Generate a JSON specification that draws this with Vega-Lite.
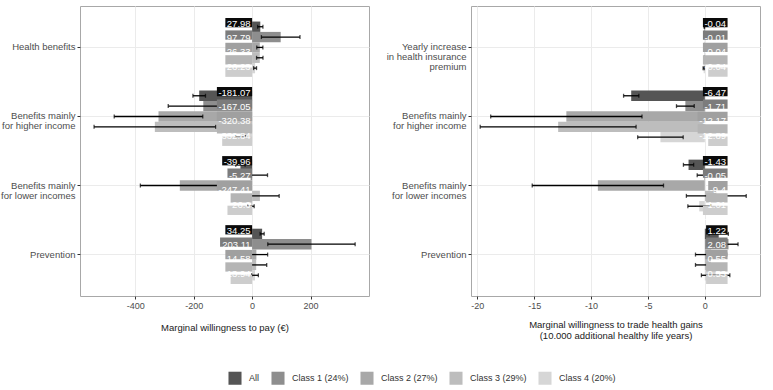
{
  "$schema": "https://vega.github.io/schema/vega-lite/v6.json",
  "padding": {"left": 0, "top": 5, "right": 0, "bottom": 0},
  "spacing": 15,
  "datasets": {
    "wtp": [
      {"attribute": "Health benefits", "group": "All", "value": 27.98, "lo": 18.98, "hi": 36.98},
      {"attribute": "Health benefits", "group": "Class 1 (24%)", "value": 97.79, "lo": 31.79, "hi": 163.79},
      {"attribute": "Health benefits", "group": "Class 2 (27%)", "value": 26.33, "lo": 15.83, "hi": 36.83},
      {"attribute": "Health benefits", "group": "Class 3 (29%)", "value": 26.23, "lo": 15.23, "hi": 37.23},
      {"attribute": "Health benefits", "group": "Class 4 (20%)", "value": 10.13, "lo": 5.13, "hi": 15.13},
      {"attribute": "Benefits mainly\nfor higher income", "group": "All", "value": -181.07, "lo": -202.57, "hi": -159.57},
      {"attribute": "Benefits mainly\nfor higher income", "group": "Class 1 (24%)", "value": -167.05, "lo": -287.05, "hi": -47.05},
      {"attribute": "Benefits mainly\nfor higher income", "group": "Class 2 (27%)", "value": -320.38, "lo": -471.88, "hi": -168.88},
      {"attribute": "Benefits mainly\nfor higher income", "group": "Class 3 (29%)", "value": -332.84, "lo": -540.84, "hi": -124.84},
      {"attribute": "Benefits mainly\nfor higher income", "group": "Class 4 (20%)", "value": -39.56, "lo": -56.56, "hi": -22.56},
      {"attribute": "Benefits mainly\nfor lower incomes", "group": "All", "value": -39.96, "lo": -55.96, "hi": -23.96},
      {"attribute": "Benefits mainly\nfor lower incomes", "group": "Class 1 (24%)", "value": -5.27, "lo": -63.27, "hi": 52.73},
      {"attribute": "Benefits mainly\nfor lower incomes", "group": "Class 2 (27%)", "value": -247.41, "lo": -382.41, "hi": -112.41},
      {"attribute": "Benefits mainly\nfor lower incomes", "group": "Class 3 (29%)", "value": 26.6, "lo": -39.4, "hi": 92.6},
      {"attribute": "Benefits mainly\nfor lower incomes", "group": "Class 4 (20%)", "value": -4.03, "lo": -15.03, "hi": 6.97},
      {"attribute": "Prevention", "group": "All", "value": 34.25, "lo": 27.25, "hi": 41.25},
      {"attribute": "Prevention", "group": "Class 1 (24%)", "value": 203.11, "lo": 53.61, "hi": 352.61},
      {"attribute": "Prevention", "group": "Class 2 (27%)", "value": 14.58, "lo": -23.92, "hi": 53.08},
      {"attribute": "Prevention", "group": "Class 3 (29%)", "value": 13.94, "lo": -22.06, "hi": 49.94},
      {"attribute": "Prevention", "group": "Class 4 (20%)", "value": 9.93, "lo": -1.57, "hi": 21.43}
    ],
    "health": [
      {"attribute": "Yearly increase\nin health insurance\npremium", "group": "All", "value": -0.04, "lo": -0.06, "hi": -0.02},
      {"attribute": "Yearly increase\nin health insurance\npremium", "group": "Class 1 (24%)", "value": -0.01, "lo": -0.03, "hi": 0.01},
      {"attribute": "Yearly increase\nin health insurance\npremium", "group": "Class 2 (27%)", "value": -0.04, "lo": -0.06, "hi": -0.02},
      {"attribute": "Yearly increase\nin health insurance\npremium", "group": "Class 3 (29%)", "value": -0.04, "lo": -0.06, "hi": -0.02},
      {"attribute": "Yearly increase\nin health insurance\npremium", "group": "Class 4 (20%)", "value": -0.1, "lo": -0.15, "hi": -0.05},
      {"attribute": "Benefits mainly\nfor higher income", "group": "All", "value": -6.47, "lo": -7.14, "hi": -5.8},
      {"attribute": "Benefits mainly\nfor higher income", "group": "Class 1 (24%)", "value": -1.71, "lo": -2.49, "hi": -0.93},
      {"attribute": "Benefits mainly\nfor higher income", "group": "Class 2 (27%)", "value": -12.17, "lo": -18.82, "hi": -5.52},
      {"attribute": "Benefits mainly\nfor higher income", "group": "Class 3 (29%)", "value": -12.89, "lo": -19.74, "hi": -6.04},
      {"attribute": "Benefits mainly\nfor higher income", "group": "Class 4 (20%)", "value": -3.9, "lo": -5.9, "hi": -1.9},
      {"attribute": "Benefits mainly\nfor lower incomes", "group": "All", "value": -1.43, "lo": -1.88, "hi": -0.98},
      {"attribute": "Benefits mainly\nfor lower incomes", "group": "Class 1 (24%)", "value": -0.05, "lo": -0.67, "hi": 0.57},
      {"attribute": "Benefits mainly\nfor lower incomes", "group": "Class 2 (27%)", "value": -9.4, "lo": -15.17, "hi": -3.63},
      {"attribute": "Benefits mainly\nfor lower incomes", "group": "Class 3 (29%)", "value": 1.01, "lo": -1.62, "hi": 3.64},
      {"attribute": "Benefits mainly\nfor lower incomes", "group": "Class 4 (20%)", "value": -0.49, "lo": -1.49, "hi": 0.51},
      {"attribute": "Prevention", "group": "All", "value": 1.22, "lo": 0.37, "hi": 2.07},
      {"attribute": "Prevention", "group": "Class 1 (24%)", "value": 2.08, "lo": 1.24, "hi": 2.92},
      {"attribute": "Prevention", "group": "Class 2 (27%)", "value": 0.55, "lo": -0.82, "hi": 1.92},
      {"attribute": "Prevention", "group": "Class 3 (29%)", "value": 0.53, "lo": -0.82, "hi": 1.88},
      {"attribute": "Prevention", "group": "Class 4 (20%)", "value": 0.95, "lo": -0.3, "hi": 2.2}
    ]
  },
  "hconcat": [
    {
      "data": {"name": "wtp"},
      "width": 289,
      "height": 290,
      "encoding": {
        "y": {
          "field": "attribute", "type": "nominal",
          "scale": {"domain": ["Health benefits", "Benefits mainly\nfor higher income", "Benefits mainly\nfor lower incomes", "Prevention"], "paddingInner": 0, "paddingOuter": 0.1},
          "axis": {"title": null, "bandPosition": 0.5, "labelExpr": "split(datum.label, '\\n')"}
        }
      },
      "layer": [
        {
          "mark": {"type": "bar"},
          "encoding": {
            "x": {
              "field": "value", "type": "quantitative", "title": "Marginal willingness to pay (€)",
              "scale": {"domain": [-589, 400], "nice": false, "zero": false},
              "axis": {
                "values": [-400, -200, 0, 200],
                "labelOverlap": false,
                "labelFlush": false,
                "labelBound": false
              }
            },
            "yOffset": {"field": "group", "scale": {"domain": ["All", "Class 1 (24%)", "Class 2 (27%)", "Class 3 (29%)", "Class 4 (20%)"], "paddingInner": 0, "paddingOuter": 0.835}},
            "color": {
              "field": "group", "type": "nominal",
              "scale": {"domain": ["All", "Class 1 (24%)", "Class 2 (27%)", "Class 3 (29%)", "Class 4 (20%)"], "range": ["#555555", "#8e8e8e", "#a8a8a8", "#bdbdbd", "#d6d6d6"]},
              "legend": {"title": null, "orient": "none", "direction": "horizontal", "legendX": 148, "legendY": 365}
            }
          }
        },
        {
          "mark": {"type": "rule", "color": "#000000", "strokeWidth": 1.3},
          "encoding": {
            "x": {"field": "lo", "type": "quantitative", "title": "Marginal willingness to pay (€)"},
            "x2": {"field": "hi"},
            "yOffset": {"field": "group", "scale": {"domain": ["All", "Class 1 (24%)", "Class 2 (27%)", "Class 3 (29%)", "Class 4 (20%)"], "paddingInner": 0, "paddingOuter": 0.835}}
          }
        },
        {
          "mark": {"type": "tick", "color": "#000000", "size": 4, "thickness": 1.3, "orient": "vertical"},
          "encoding": {
            "x": {"field": "lo", "type": "quantitative", "title": "Marginal willingness to pay (€)"},
            "yOffset": {"field": "group", "scale": {"domain": ["All", "Class 1 (24%)", "Class 2 (27%)", "Class 3 (29%)", "Class 4 (20%)"], "paddingInner": 0, "paddingOuter": 0.835}}
          }
        },
        {
          "mark": {"type": "tick", "color": "#000000", "size": 4, "thickness": 1.3, "orient": "vertical"},
          "encoding": {
            "x": {"field": "hi", "type": "quantitative", "title": "Marginal willingness to pay (€)"},
            "yOffset": {"field": "group", "scale": {"domain": ["All", "Class 1 (24%)", "Class 2 (27%)", "Class 3 (29%)", "Class 4 (20%)"], "paddingInner": 0, "paddingOuter": 0.835}}
          }
        },
        {
          "mark": {"type": "rect", "xOffset": {"expr": "-(3 + 9.5 * (0.556 * (length(format(datum.value, '.2~f')) - (datum.value < 0 ? 1 : 0) - (indexof(format(datum.value, '.2~f'), '.') >= 0 ? 1 : 0)) + (datum.value < 0 ? 0.333 : 0) + (indexof(format(datum.value, '.2~f'), '.') >= 0 ? 0.278 : 0)))"}},
          "encoding": {
            "x": {"datum": 0.0001, "type": "quantitative", "title": "Marginal willingness to pay (€)"},
            "x2": {"datum": 0.0001},
            "yOffset": {"field": "group", "scale": {"domain": ["All", "Class 1 (24%)", "Class 2 (27%)", "Class 3 (29%)", "Class 4 (20%)"], "paddingInner": 0.25, "paddingOuter": 0.41}},
            "fill": {
              "field": "group", "type": "nominal", "legend": null,
              "scale": {"domain": ["All", "Class 1 (24%)", "Class 2 (27%)", "Class 3 (29%)", "Class 4 (20%)"], "range": ["#0a0a0a", "#7c7c7c", "#a0a0a0", "#b5b5b5", "#cdcdcd"]}
            }
          }
        },
        {
          "mark": {"type": "text", "align": "right", "baseline": "middle", "dx": -1.5, "dy": 4.8, "color": "#ffffff", "fontSize": 9.5},
          "encoding": {
            "x": {"datum": 0.0001, "type": "quantitative", "title": "Marginal willingness to pay (€)"},
            "yOffset": {"field": "group", "scale": {"domain": ["All", "Class 1 (24%)", "Class 2 (27%)", "Class 3 (29%)", "Class 4 (20%)"], "paddingInner": 0.25, "paddingOuter": 0.41}},
            "text": {"field": "value", "type": "quantitative", "format": ".2~f"}
          }
        }
      ],
      "resolve": {"scale": {"yOffset": "independent"}}
    },
    {
      "data": {"name": "health"},
      "width": 289,
      "height": 290,
      "encoding": {
        "y": {
          "field": "attribute", "type": "nominal",
          "scale": {"domain": ["Yearly increase\nin health insurance\npremium", "Benefits mainly\nfor higher income", "Benefits mainly\nfor lower incomes", "Prevention"], "paddingInner": 0, "paddingOuter": 0.1},
          "axis": {"title": null, "bandPosition": 0.5, "labelExpr": "split(datum.label, '\\n')"}
        }
      },
      "layer": [
        {
          "mark": {"type": "bar"},
          "encoding": {
            "x": {
              "field": "value", "type": "quantitative", "title": ["Marginal willingness to trade health gains", "(10.000 additional healthy life years)"],
              "scale": {"domain": [-20.55, 4.85], "nice": false, "zero": false},
              "axis": {
                "values": [-20, -15, -10, -5, 0, -17.5, -12.5, -7.5, -2.5, 2.5],
                "labelOverlap": false,
                "titlePadding": 9,
                "labelExpr": "datum.value % 5 == 0 ? datum.label : ''",
                "tickColor": {"condition": {"test": "datum.value % 5 != 0", "value": "transparent"}, "value": "#333333"},
                "gridWidth": {"condition": {"test": "datum.value % 5 != 0", "value": 0.6}, "value": 1}
              }
            },
            "yOffset": {"field": "group", "scale": {"domain": ["All", "Class 1 (24%)", "Class 2 (27%)", "Class 3 (29%)", "Class 4 (20%)"], "paddingInner": 0, "paddingOuter": 0.835}},
            "color": {
              "field": "group", "type": "nominal",
              "scale": {"domain": ["All", "Class 1 (24%)", "Class 2 (27%)", "Class 3 (29%)", "Class 4 (20%)"], "range": ["#555555", "#8e8e8e", "#a8a8a8", "#bdbdbd", "#d6d6d6"]},
              "legend": {"title": null, "orient": "none", "direction": "horizontal", "legendX": 148, "legendY": 365}
            }
          }
        },
        {
          "mark": {"type": "rule", "color": "#000000", "strokeWidth": 1.3},
          "encoding": {
            "x": {"field": "lo", "type": "quantitative", "title": ["Marginal willingness to trade health gains", "(10.000 additional healthy life years)"]},
            "x2": {"field": "hi"},
            "yOffset": {"field": "group", "scale": {"domain": ["All", "Class 1 (24%)", "Class 2 (27%)", "Class 3 (29%)", "Class 4 (20%)"], "paddingInner": 0, "paddingOuter": 0.835}}
          }
        },
        {
          "mark": {"type": "tick", "color": "#000000", "size": 4, "thickness": 1.3, "orient": "vertical"},
          "encoding": {
            "x": {"field": "lo", "type": "quantitative", "title": ["Marginal willingness to trade health gains", "(10.000 additional healthy life years)"]},
            "yOffset": {"field": "group", "scale": {"domain": ["All", "Class 1 (24%)", "Class 2 (27%)", "Class 3 (29%)", "Class 4 (20%)"], "paddingInner": 0, "paddingOuter": 0.835}}
          }
        },
        {
          "mark": {"type": "tick", "color": "#000000", "size": 4, "thickness": 1.3, "orient": "vertical"},
          "encoding": {
            "x": {"field": "hi", "type": "quantitative", "title": ["Marginal willingness to trade health gains", "(10.000 additional healthy life years)"]},
            "yOffset": {"field": "group", "scale": {"domain": ["All", "Class 1 (24%)", "Class 2 (27%)", "Class 3 (29%)", "Class 4 (20%)"], "paddingInner": 0, "paddingOuter": 0.835}}
          }
        },
        {
          "mark": {"type": "rect", "xOffset": {"expr": "-(3 + 9.5 * (0.556 * (length(format(datum.value, '.2~f')) - (datum.value < 0 ? 1 : 0) - (indexof(format(datum.value, '.2~f'), '.') >= 0 ? 1 : 0)) + (datum.value < 0 ? 0.333 : 0) + (indexof(format(datum.value, '.2~f'), '.') >= 0 ? 0.278 : 0)))"}},
          "encoding": {
            "x": {"datum": 2, "type": "quantitative", "title": ["Marginal willingness to trade health gains", "(10.000 additional healthy life years)"]},
            "x2": {"datum": 2},
            "yOffset": {"field": "group", "scale": {"domain": ["All", "Class 1 (24%)", "Class 2 (27%)", "Class 3 (29%)", "Class 4 (20%)"], "paddingInner": 0.25, "paddingOuter": 0.41}},
            "fill": {
              "field": "group", "type": "nominal", "legend": null,
              "scale": {"domain": ["All", "Class 1 (24%)", "Class 2 (27%)", "Class 3 (29%)", "Class 4 (20%)"], "range": ["#0a0a0a", "#7c7c7c", "#a0a0a0", "#b5b5b5", "#cdcdcd"]}
            }
          }
        },
        {
          "mark": {"type": "text", "align": "right", "baseline": "middle", "dx": -1.5, "dy": 4.8, "color": "#ffffff", "fontSize": 9.5},
          "encoding": {
            "x": {"datum": 2, "type": "quantitative", "title": ["Marginal willingness to trade health gains", "(10.000 additional healthy life years)"]},
            "yOffset": {"field": "group", "scale": {"domain": ["All", "Class 1 (24%)", "Class 2 (27%)", "Class 3 (29%)", "Class 4 (20%)"], "paddingInner": 0.25, "paddingOuter": 0.41}},
            "text": {"field": "value", "type": "quantitative", "format": ".2~f"}
          }
        }
      ],
      "resolve": {"scale": {"yOffset": "independent"}}
    }
  ],
  "resolve": {"scale": {"color": "shared", "fill": "shared"}, "legend": {"color": "shared"}},
  "config": {
    "font": "Liberation Sans",
    "locale": {"number": {"decimal": ".", "thousands": ",", "grouping": [3], "currency": ["$", ""], "minus": "-"}},
    "view": {"stroke": "#a8a8a8", "strokeWidth": 1},
    "axis": {
      "domain": false,
      "grid": true,
      "gridColor": "#ebebeb",
      "tickColor": "#333333",
      "tickSize": 3,
      "labelColor": "#4d4d4d",
      "labelFontSize": 9,
      "labelPadding": 2,
      "titleFontSize": 9.5,
      "titleFontWeight": "normal",
      "titleColor": "#1a1a1a",
      "titlePadding": 12
    },
    "axisX": {"labelOverlap": false},
    "axisY": {
      "labelFontSize": 9.5,
      "labelLineHeight": 10,
      "minExtent": 78,
      "maxExtent": 78
    },
    "legend": {
      "symbolType": "square",
      "symbolSize": 170,
      "symbolStrokeWidth": 0,
      "labelFontSize": 9,
      "labelColor": "#333333",
      "labelOffset": 7,
      "columnPadding": 11
    }
  }
}
